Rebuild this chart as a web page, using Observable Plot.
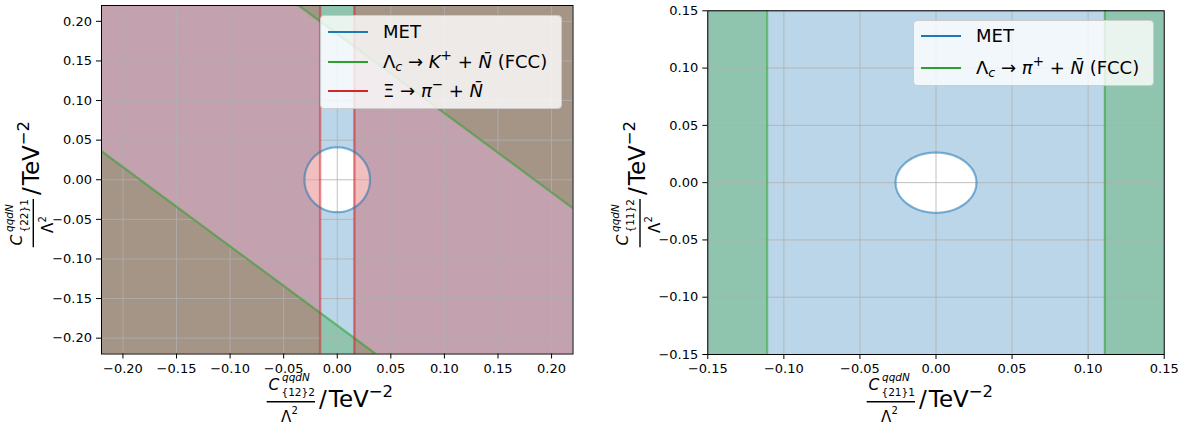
<!DOCTYPE html>
<html>
<head>
<meta charset="utf-8">
<script src="https://cdn.jsdelivr.net/npm/d3@7"></script>
<script src="https://cdn.jsdelivr.net/npm/@observablehq/plot@0.6"></script>
<style>
  html, body { margin: 0; padding: 0; background: white; }
  #fig { position: relative; width: 1185px; height: 424px; overflow: hidden; font-family: "DejaVu Sans", sans-serif; }
  #fig > .panel { position: absolute; top: 0; }
  .leg { position: absolute; background: rgba(255,255,255,0.8); border: 1px solid #cccccc; border-radius: 4px; box-sizing: border-box; }
  .leg .row { position: absolute; left: 0; right: 0; height: 30px; }
  .leg .sample { position: absolute; left: 7px; width: 40px; height: 2px; top: 14px; }
  .leg .txt { position: absolute; left: 62px; top: 0; line-height: 30px; font-size: 18px; white-space: nowrap; color: #000; }
  .leg sub { font-size: 70%; vertical-align: -0.25em; line-height: 0; }
  .leg sup { font-size: 75%; vertical-align: 0.6em; line-height: 0; }
  #labels { position: absolute; left: 0; top: 0; pointer-events: none; }
</style>
</head>
<body>
<div id="fig"></div>
<script>
// ---------------- data ----------------
const leftDomain = [-0.22, 0.22];
const rightDomain = [-0.15, 0.15];
const leftTicks = [-0.20, -0.15, -0.10, -0.05, 0.00, 0.05, 0.10, 0.15, 0.20];
const rightTicks = [-0.15, -0.10, -0.05, 0.00, 0.05, 0.10, 0.15];
// MET allowed ellipse half-axes [x, y]
const metRadiiLeft = [0.0306, 0.041];
const metRadiiRight = [0.0266, 0.0263];
// Xi -> pi- + Nbar : allowed |x| < bound (left panel)
const xiBound = 0.016;
// Lambda_c -> K+ + Nbar (FCC): allowed |x + y| < bound (left panel)
const lambdaKBound = 0.184;
// Lambda_c -> pi+ + Nbar (FCC): allowed |x| < bound (right panel)
const lambdaPiBound = 0.111;
const leftLegend = ["MET", "Λ<sub><i>c</i></sub> → <i>K</i><sup>+</sup> + <i>N̄</i> (FCC)", "Ξ → <i>π</i><sup>−</sup> + <i>N̄</i>"];
const rightLegend = ["MET", "Λ<sub><i>c</i></sub> → <i>π</i><sup>+</sup> + <i>N̄</i> (FCC)"];
const leftLabels = {x: "{12}2", y: "{22}1"};
const rightLabels = {x: "{21}1", y: "{11}2"};

const blue = "#1f77b4", green = "#2ca02c", red = "#d62728";
const fmt = d3.format(".2f");
const tickFontSize = "13px";

function ellipse([rx, ry], n = 160) {
  return d3.range(n + 1).map(i => {
    const t = 2 * Math.PI * i / n;
    return {x: rx * Math.cos(t), y: ry * Math.sin(t)};
  });
}

const fig = document.getElementById("fig");
const style = {fontFamily: "DejaVu Sans", fontSize: tickFontSize, color: "black", background: "white"};
const axisOpts = {tickSize: 5, label: null};

function fixText(p) {
  p.querySelectorAll("text").forEach(t => {
    t.style.fontSize = tickFontSize;
    t.style.fontFamily = "DejaVu Sans";
  });
}

// ---------------- left panel ----------------
{
  const D = leftDomain, c = lambdaKBound;
  const full = [{x1: D[0], x2: D[1], y1: D[0], y2: D[1]}];
  const ell = ellipse(metRadiiLeft);
  const greenUpper = [{x: c - D[1], y1: D[1], y2: D[1]}, {x: D[1], y1: c - D[1], y2: D[1]}];
  const greenLower = [{x: D[0], y1: -c - D[0], y2: D[0]}, {x: -c - D[0], y1: D[0], y2: D[0]}];
  const lineUpper = [{x: c - D[1], y: D[1]}, {x: D[1], y: c - D[1]}];
  const lineLower = [{x: D[0], y: -c - D[0]}, {x: -c - D[0], y: D[0]}];
  const redRects = [{x1: D[0], x2: -xiBound, y1: D[0], y2: D[1]}, {x1: xiBound, x2: D[1], y1: D[0], y2: D[1]}];
  const p = Plot.plot({
    width: 590, height: 424,
    marginLeft: 101, marginRight: 17.5, marginTop: 5, marginBottom: 70.5,
    x: {domain: D, label: null},
    y: {domain: D, label: null},
    style,
    marks: [
      Plot.rect(full, {x1: "x1", x2: "x2", y1: "y1", y2: "y2", fill: blue, fillOpacity: 0.3}),
      Plot.line(ell, {x: "x", y: "y", fill: "white", stroke: "none"}),
      Plot.areaY(greenUpper, {x: "x", y1: "y1", y2: "y2", fill: green, fillOpacity: 0.3}),
      Plot.areaY(greenLower, {x: "x", y1: "y1", y2: "y2", fill: green, fillOpacity: 0.3}),
      Plot.rect(redRects, {x1: "x1", x2: "x2", y1: "y1", y2: "y2", fill: red, fillOpacity: 0.3}),
      Plot.gridX({ticks: leftTicks, stroke: "#b0b0b0", strokeOpacity: 1, strokeWidth: 0.8}),
      Plot.gridY({ticks: leftTicks, stroke: "#b0b0b0", strokeOpacity: 1, strokeWidth: 0.8}),
      Plot.line(lineUpper, {x: "x", y: "y", stroke: green, strokeOpacity: 0.55, strokeWidth: 2.2, clip: true}),
      Plot.line(lineLower, {x: "x", y: "y", stroke: green, strokeOpacity: 0.55, strokeWidth: 2.2, clip: true}),
      Plot.ruleX([-xiBound, xiBound], {stroke: red, strokeOpacity: 0.55, strokeWidth: 2.4}),
      Plot.line(ell, {x: "x", y: "y", stroke: blue, strokeOpacity: 0.55, strokeWidth: 2.2}),
      Plot.frame({stroke: "black", strokeWidth: 1}),
      Plot.axisX({...axisOpts, ticks: leftTicks, tickFormat: fmt, tickPadding: 4.4}),
      Plot.axisY({...axisOpts, ticks: leftTicks, tickFormat: fmt, tickPadding: 4.5})
    ]
  });
  p.classList.add("panel");
  p.style.left = "0px";
  fixText(p);
  fig.appendChild(p);
}

// ---------------- right panel ----------------
{
  const D = rightDomain;
  const full = [{x1: D[0], x2: D[1], y1: D[0], y2: D[1]}];
  const ell = ellipse(metRadiiRight);
  const greenRects = [{x1: D[0], x2: -lambdaPiBound, y1: D[0], y2: D[1]}, {x1: lambdaPiBound, x2: D[1], y1: D[0], y2: D[1]}];
  const p = Plot.plot({
    width: 595, height: 424,
    marginLeft: 117.3, marginRight: 21.3, marginTop: 10.3, marginBottom: 70,
    x: {domain: D, label: null},
    y: {domain: D, label: null},
    style,
    marks: [
      Plot.rect(full, {x1: "x1", x2: "x2", y1: "y1", y2: "y2", fill: blue, fillOpacity: 0.3}),
      Plot.line(ell, {x: "x", y: "y", fill: "white", stroke: "none"}),
      Plot.rect(greenRects, {x1: "x1", x2: "x2", y1: "y1", y2: "y2", fill: green, fillOpacity: 0.3}),
      Plot.gridX({ticks: rightTicks, stroke: "#b0b0b0", strokeOpacity: 1, strokeWidth: 0.8}),
      Plot.gridY({ticks: rightTicks, stroke: "#b0b0b0", strokeOpacity: 1, strokeWidth: 0.8}),
      Plot.ruleX([-lambdaPiBound, lambdaPiBound], {stroke: green, strokeOpacity: 0.55, strokeWidth: 2.2}),
      Plot.line(ell, {x: "x", y: "y", stroke: blue, strokeOpacity: 0.55, strokeWidth: 2.2}),
      Plot.frame({stroke: "black", strokeWidth: 1}),
      Plot.axisX({...axisOpts, ticks: rightTicks, tickFormat: fmt, tickPadding: 4.4}),
      Plot.axisY({...axisOpts, ticks: rightTicks, tickFormat: fmt, tickPadding: 4.5})
    ]
  });
  p.classList.add("panel");
  p.style.left = "590px";
  fixText(p);
  fig.appendChild(p);
}

// ---------------- legends ----------------
function legend(items, colors, box, centers) {
  const d = document.createElement("div");
  d.className = "leg";
  Object.assign(d.style, {left: box[0] + "px", top: box[1] + "px", width: box[2] + "px", height: box[3] + "px"});
  items.forEach((html, i) => {
    const r = document.createElement("div");
    r.className = "row";
    r.style.top = (centers[i] - 15) + "px";
    r.innerHTML = `<div class="sample" style="background:${colors[i]}"></div><div class="txt">${html}</div>`;
    d.appendChild(r);
  });
  fig.appendChild(d);
}
legend(leftLegend, [blue, green, red], [320, 15, 242, 94], [16, 46, 75]);
legend(rightLegend, [blue, green], [913, 20, 241, 66], [15, 47]);

// ---------------- axis labels ----------------
const NS = "http://www.w3.org/2000/svg";
const svg = document.createElementNS(NS, "svg");
svg.setAttribute("id", "labels");
svg.setAttribute("width", 1185);
svg.setAttribute("height", 424);
svg.setAttribute("font-family", "DejaVu Sans");
fig.appendChild(svg);

function axisLabel(sub, tx, ty, rotate) {
  const g = document.createElementNS(NS, "g");
  g.setAttribute("transform", `translate(${tx},${ty})` + (rotate ? " rotate(-90)" : ""));
  g.innerHTML = `
    <text x="2.5" y="22" font-size="15.5" font-style="italic">C</text>
    <text x="16" y="13" font-size="10.5" font-style="italic">qqdN</text>
    <text x="15.5" y="28" font-size="10.5">${sub}</text>
    <line x1="0.7" x2="49" y1="33.7" y2="33.7" stroke="black" stroke-width="1.4"></line>
    <text x="15" y="53.5" font-size="15">Λ</text>
    <text x="25.5" y="46" font-size="10">2</text>
    <text x="53" y="39" font-size="23">/<tspan dx="2">TeV</tspan><tspan dy="-10" font-size="16.5">−2</tspan></text>`;
  svg.appendChild(g);
}
axisLabel(leftLabels.x, 266, 368, false);
axisLabel(leftLabels.y, -0.4, 248, true);
axisLabel(rightLabels.x, 866, 368, false);
axisLabel(rightLabels.y, 606.3, 248, true);
</script>
</body>
</html>
